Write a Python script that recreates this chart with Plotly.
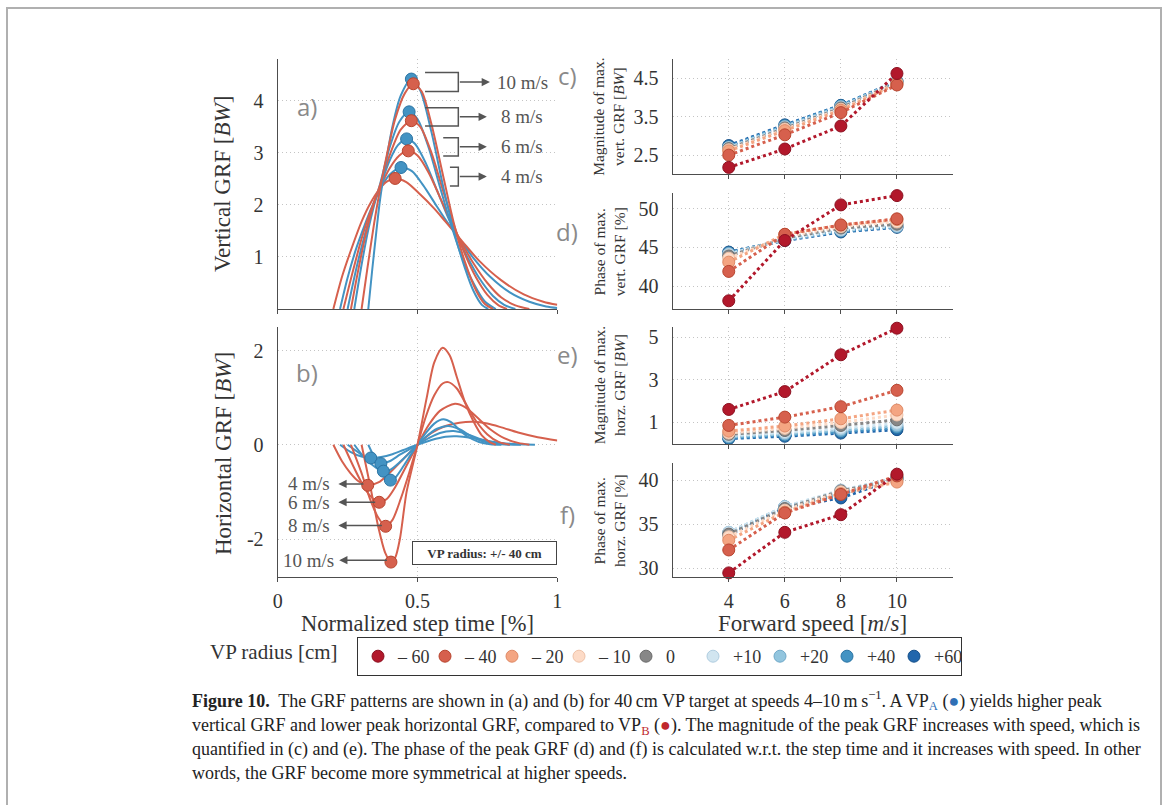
import plotly.graph_objects as go

W, H = 1168, 805
SERIF = "Liberation Serif, Times New Roman, serif"
SANS = "Open Sans, DejaVu Sans, sans-serif"
INK = "#555555"

speed_labels = ["4 m/s", "6 m/s", "8 m/s", "10 m/s"]

# ---------------- (a) vertical GRF over normalized step time ----------------
vert_red_t = [
    [0.199, 0.23, 0.26, 0.30, 0.33, 0.366, 0.39, 0.42, 0.46, 0.51, 0.56, 0.60, 0.66, 0.72, 0.80, 0.88, 0.95, 1.0],
    [0.235, 0.27, 0.30, 0.33, 0.366, 0.40, 0.435, 0.467, 0.50, 0.54, 0.58, 0.62, 0.66, 0.70, 0.75, 0.80, 0.85, 0.90],
    [0.262, 0.29, 0.32, 0.345, 0.366, 0.40, 0.44, 0.478, 0.51, 0.55, 0.59, 0.63, 0.67, 0.71, 0.75, 0.79, 0.82],
    [0.30, 0.32, 0.345, 0.366, 0.39, 0.42, 0.455, 0.485, 0.515, 0.55, 0.59, 0.63, 0.67, 0.71, 0.74, 0.77],
]
vert_red_f = [
    [0, 0.62, 1.1, 1.68, 2.02, 2.32, 2.45, 2.51, 2.44, 2.2, 1.93, 1.68, 1.3, 0.93, 0.55, 0.28, 0.14, 0.08],
    [0, 0.75, 1.35, 1.85, 2.33, 2.7, 2.95, 3.04, 2.95, 2.62, 2.15, 1.68, 1.25, 0.88, 0.5, 0.22, 0.07, 0.0],
    [0, 0.8, 1.55, 2.05, 2.38, 2.95, 3.45, 3.62, 3.5, 3.0, 2.3, 1.62, 1.05, 0.6, 0.27, 0.07, 0.0],
    [0, 0.75, 1.65, 2.3, 2.95, 3.65, 4.15, 4.33, 4.18, 3.55, 2.6, 1.65, 0.9, 0.35, 0.1, 0.0],
]
vert_blue_t = [
    [0.223, 0.25, 0.28, 0.31, 0.34, 0.366, 0.40, 0.441, 0.48, 0.52, 0.56, 0.60, 0.64, 0.70, 0.76, 0.83, 0.90, 0.96, 1.0],
    [0.25, 0.28, 0.31, 0.34, 0.366, 0.40, 0.43, 0.461, 0.49, 0.53, 0.57, 0.61, 0.64, 0.68, 0.72, 0.77, 0.81, 0.85],
    [0.274, 0.30, 0.325, 0.345, 0.366, 0.40, 0.435, 0.470, 0.50, 0.54, 0.58, 0.62, 0.66, 0.70, 0.74, 0.78],
    [0.324, 0.338, 0.352, 0.366, 0.385, 0.41, 0.44, 0.478, 0.51, 0.55, 0.59, 0.63, 0.67, 0.70, 0.73, 0.753],
]
vert_blue_f = [
    [0, 0.6, 1.15, 1.6, 2.0, 2.3, 2.58, 2.72, 2.65, 2.38, 2.05, 1.72, 1.42, 0.98, 0.62, 0.32, 0.14, 0.05, 0.02],
    [0, 0.75, 1.4, 1.95, 2.35, 2.85, 3.15, 3.27, 3.18, 2.8, 2.28, 1.75, 1.42, 0.98, 0.6, 0.25, 0.08, 0.0],
    [0, 0.85, 1.55, 2.0, 2.4, 3.1, 3.6, 3.79, 3.65, 3.1, 2.35, 1.62, 0.98, 0.5, 0.15, 0.0],
    [0, 0.75, 1.45, 2.1, 2.75, 3.5, 4.1, 4.42, 4.2, 3.4, 2.4, 1.5, 0.78, 0.35, 0.08, 0.0],
]
vert_red_peak_t = [0.42, 0.467, 0.478, 0.485]
vert_red_peak_f = [2.51, 3.04, 3.62, 4.33]
vert_blue_peak_t = [0.441, 0.461, 0.470, 0.478]
vert_blue_peak_f = [2.72, 3.27, 3.79, 4.42]

# ---------------- (b) horizontal GRF over normalized step time ----------------
horz_red_t = [
    [0.199, 0.23, 0.26, 0.29, 0.322, 0.36, 0.40, 0.45, 0.5, 0.55, 0.60, 0.65, 0.70, 0.75, 0.80, 0.86, 0.93, 1.0],
    [0.235, 0.27, 0.30, 0.33, 0.363, 0.39, 0.42, 0.46, 0.5, 0.54, 0.58, 0.634, 0.67, 0.71, 0.76, 0.81, 0.86, 0.90],
    [0.262, 0.30, 0.33, 0.36, 0.386, 0.41, 0.44, 0.47, 0.5, 0.53, 0.56, 0.59, 0.61, 0.64, 0.67, 0.71, 0.75, 0.79, 0.83],
    [0.30, 0.33, 0.36, 0.385, 0.405, 0.42, 0.437, 0.461, 0.5, 0.533, 0.56, 0.59, 0.615, 0.64, 0.67, 0.70, 0.73, 0.76, 0.78],
]
horz_red_f = [
    [0, -0.35, -0.6, -0.78, -0.86, -0.8, -0.6, -0.3, 0, 0.25, 0.4, 0.47, 0.49, 0.45, 0.37, 0.26, 0.16, 0.09],
    [0, -0.45, -0.8, -1.08, -1.22, -1.15, -0.9, -0.45, 0, 0.42, 0.72, 0.87, 0.8, 0.6, 0.33, 0.14, 0.04, 0.0],
    [0, -0.6, -1.15, -1.55, -1.73, -1.6, -1.15, -0.6, 0, 0.6, 1.05, 1.3, 1.33, 1.2, 0.9, 0.5, 0.22, 0.06, 0.0],
    [0, -0.85, -1.75, -2.3, -2.49, -2.4, -2.0, -1.0, 0, 1.0, 1.75, 2.06, 1.9, 1.45, 0.9, 0.5, 0.2, 0.05, 0.0],
]
horz_blue_t = [
    [0.223, 0.26, 0.30, 0.333, 0.37, 0.41, 0.45, 0.5, 0.55, 0.60, 0.64, 0.69, 0.74, 0.80, 0.86, 0.92],
    [0.25, 0.29, 0.32, 0.345, 0.369, 0.40, 0.44, 0.5, 0.54, 0.58, 0.628, 0.67, 0.72, 0.77, 0.82, 0.87],
    [0.274, 0.30, 0.33, 0.355, 0.378, 0.40, 0.44, 0.47, 0.5, 0.53, 0.57, 0.61, 0.65, 0.69, 0.73, 0.78, 0.83],
    [0.324, 0.34, 0.36, 0.38, 0.403, 0.42, 0.45, 0.475, 0.5, 0.53, 0.56, 0.592, 0.62, 0.65, 0.68, 0.72, 0.76, 0.80],
]
horz_blue_f = [
    [0, -0.15, -0.25, -0.28, -0.26, -0.2, -0.11, 0, 0.1, 0.17, 0.18, 0.15, 0.09, 0.04, 0.01, 0.0],
    [0, -0.17, -0.3, -0.37, -0.40, -0.35, -0.2, 0, 0.14, 0.25, 0.29, 0.24, 0.13, 0.05, 0.01, 0.0],
    [0, -0.2, -0.38, -0.5, -0.56, -0.54, -0.35, -0.18, 0, 0.17, 0.34, 0.40, 0.33, 0.19, 0.08, 0.02, 0.0],
    [0, -0.2, -0.45, -0.65, -0.75, -0.7, -0.45, -0.22, 0, 0.25, 0.45, 0.54, 0.48, 0.32, 0.17, 0.06, 0.01, 0.0],
]
horz_red_min_t = [0.322, 0.363, 0.386, 0.405]
horz_red_min_f = [-0.86, -1.22, -1.73, -2.49]
horz_blue_min_t = [0.333, 0.369, 0.378, 0.403]
horz_blue_min_f = [-0.28, -0.40, -0.56, -0.75]

# ---------------- (c)-(f) peak magnitude / phase vs forward speed ----------------
fwd_speed = [4, 6, 8, 10]
vp_radius = ["\u2013 60", "\u2013 40", "\u2013 20", "\u2013 10", "0", "+10", "+20", "+40", "+60"]
vp_colors = ["#b2182b", "#d6604d", "#f4a582", "#fddbc7", "#878787", "#d1e5f0", "#92c5de", "#4393c3", "#2166ac"]
vp_edges = ["#8c1020", "#b8452f", "#df8a66", "#efc2a8", "#6b6b6b", "#b0cde0", "#70a9c9", "#2b74a4", "#15508a"]

mag_vert = [
    [2.18, 2.66, 3.26, 4.63],
    [2.50, 3.03, 3.61, 4.33],
    [2.61, 3.14, 3.67, 4.36],
    [2.64, 3.18, 3.70, 4.38],
    [2.67, 3.21, 3.73, 4.40],
    [2.69, 3.23, 3.75, 4.41],
    [2.70, 3.25, 3.77, 4.42],
    [2.72, 3.27, 3.79, 4.42],
    [2.75, 3.29, 3.80, 4.43],
]
phase_vert = [
    [38.1, 45.9, 50.5, 51.7],
    [41.9, 46.7, 47.9, 48.7],
    [43.1, 46.7, 47.9, 48.6],
    [43.6, 46.4, 47.7, 48.3],
    [43.9, 46.2, 47.5, 48.0],
    [44.1, 46.1, 47.3, 47.8],
    [44.2, 46.0, 47.2, 47.7],
    [44.3, 46.0, 47.1, 47.7],
    [44.4, 45.9, 47.0, 47.6],
]
mag_horz = [
    [1.61, 2.45, 4.18, 5.43],
    [0.86, 1.25, 1.74, 2.51],
    [0.59, 0.83, 1.17, 1.58],
    [0.50, 0.72, 1.00, 1.35],
    [0.44, 0.62, 0.86, 1.12],
    [0.38, 0.53, 0.73, 0.96],
    [0.33, 0.46, 0.64, 0.84],
    [0.28, 0.40, 0.56, 0.75],
    [0.24, 0.35, 0.50, 0.66],
]
phase_horz = [
    [29.5, 34.1, 36.1, 40.7],
    [32.1, 36.3, 38.4, 40.5],
    [33.2, 36.4, 38.5, 39.8],
    [33.6, 36.6, 38.7, 39.9],
    [33.9, 36.8, 38.8, 40.1],
    [34.1, 37.0, 38.9, 40.2],
    [34.1, 37.0, 38.8, 40.3],
    [34.0, 37.0, 38.4, 40.3],
    [33.8, 36.9, 38.0, 40.2],
]

RED, RED_EDGE = "#d6604d", "#b8452f"
BLUE, BLUE_EDGE = "#4393c3", "#2b74a4"


def fx(px):
    return px / W


def fy(py):
    return 1 - py / H


fig = go.Figure()

# ---- (a) and (b) curves ----
for (xa, ya, t_r, f_r, t_b, f_b) in [
    ("x", "y", vert_red_t, vert_red_f, vert_blue_t, vert_blue_f),
    ("x2", "y2", horz_red_t, horz_red_f, horz_blue_t, horz_blue_f),
]:
    for i in range(4):
        fig.add_trace(go.Scatter(x=t_b[i], y=f_b[i], mode="lines", xaxis=xa, yaxis=ya,
                                 line=dict(color=BLUE, width=2, shape="spline", smoothing=0.8),
                                 showlegend=False, hoverinfo="skip"))
        fig.add_trace(go.Scatter(x=t_r[i], y=f_r[i], mode="lines", xaxis=xa, yaxis=ya,
                                 line=dict(color=RED, width=2, shape="spline", smoothing=0.8),
                                 showlegend=False, hoverinfo="skip"))

for (xa, ya, tb, fb, tr, fr) in [
    ("x", "y", vert_blue_peak_t, vert_blue_peak_f, vert_red_peak_t, vert_red_peak_f),
    ("x2", "y2", horz_blue_min_t, horz_blue_min_f, horz_red_min_t, horz_red_min_f),
]:
    fig.add_trace(go.Scatter(x=tb, y=fb, mode="markers", xaxis=xa, yaxis=ya, cliponaxis=False,
                             marker=dict(color=BLUE, size=12, line=dict(color=BLUE_EDGE, width=1)),
                             showlegend=False, hoverinfo="skip"))
    fig.add_trace(go.Scatter(x=tr, y=fr, mode="markers", xaxis=xa, yaxis=ya, cliponaxis=False,
                             marker=dict(color=RED, size=12, line=dict(color=RED_EDGE, width=1)),
                             showlegend=False, hoverinfo="skip"))

# ---- (c)-(f) ----
panels = [("x3", "y3", mag_vert), ("x4", "y4", phase_vert), ("x5", "y5", mag_horz), ("x6", "y6", phase_horz)]
for xa, ya, vals in panels:
    for k in reversed(range(len(vp_radius))):
        fig.add_trace(go.Scatter(
            x=fwd_speed, y=vals[k], mode="lines+markers", xaxis=xa, yaxis=ya, cliponaxis=False,
            line=dict(color=vp_colors[k], width=3, dash="dot"),
            marker=dict(color=vp_colors[k], size=12, line=dict(color=vp_edges[k], width=1)),
            showlegend=False, hoverinfo="skip"))

# legend entries
for k in range(len(vp_radius)):
    fig.add_trace(go.Scatter(
        x=[None], y=[None], mode="markers", xaxis="x3", yaxis="y3", name=vp_radius[k],
        marker=dict(color=vp_colors[k], size=12, line=dict(color=vp_edges[k], width=1)),
        showlegend=True, legendrank=k + 1))

# ---- axes ----
tickfont = dict(family=SERIF, size=20, color="#333333")
base = dict(showline=True, linecolor="#4d4d4d", linewidth=1.3, zeroline=False, showgrid=True,
            gridcolor="#c4c4c4", griddash="1px,3px", gridwidth=1, tickfont=tickfont, fixedrange=True)
xbase = dict(base, ticks="outside", ticklen=4, tickcolor="#4d4d4d", tickwidth=1, ticklabelstandoff=2)
ybase = dict(base, ticks="", ticklabelstandoff=9)

left_dom = [fx(277.7), fx(557.3)]
right_dom = [fx(672.7), fx(953)]

fig.update_layout(
    xaxis=dict(xbase, domain=left_dom, range=[0, 1], tickvals=[0, 0.5, 1], showticklabels=False, anchor="y"),
    yaxis=dict(ybase, domain=[fy(309), fy(59.3)], range=[0, 4.8], tickvals=[1, 2, 3, 4], anchor="x"),
    xaxis2=dict(xbase, domain=left_dom, range=[0, 1], tickvals=[0, 0.5, 1], ticktext=["0", "0.5", "1"], anchor="y2"),
    yaxis2=dict(ybase, domain=[fy(576.7), fy(327)], range=[-2.8, 2.5], tickvals=[-2, 0, 2],
                ticktext=["-2", "0", "2"], anchor="x2"),
    xaxis3=dict(xbase, domain=right_dom, range=[2, 12], tickvals=fwd_speed, showticklabels=False, anchor="y3"),
    yaxis3=dict(ybase, domain=[fy(174.3), fy(59.3)], range=[2, 5], tickvals=[2.5, 3.5, 4.5], anchor="x3"),
    xaxis4=dict(xbase, domain=right_dom, range=[2, 12], tickvals=fwd_speed, showticklabels=False, anchor="y4"),
    yaxis4=dict(ybase, domain=[fy(309.3), fy(193.3)], range=[37, 52], tickvals=[40, 45, 50], anchor="x4"),
    xaxis5=dict(xbase, domain=right_dom, range=[2, 12], tickvals=fwd_speed, showticklabels=False, anchor="y5"),
    yaxis5=dict(ybase, domain=[fy(443.7), fy(326.7)], range=[0, 5.5], tickvals=[1, 3, 5], anchor="x5"),
    xaxis6=dict(xbase, domain=right_dom, range=[2, 12], tickvals=fwd_speed, anchor="y6"),
    yaxis6=dict(ybase, domain=[fy(577.3), fy(462.7)], range=[29, 42], tickvals=[30, 35, 40], anchor="x6"),
)

ann = []


def text(x, y, s, size, color="#333333", family=SERIF, xanchor="center", yanchor="middle",
         angle=0, xref="paper", yref="paper", **kw):
    ann.append(dict(x=x, y=y, text=s, showarrow=False, xref=xref, yref=yref, xanchor=xanchor,
                    yanchor=yanchor, textangle=angle, font=dict(family=family, size=size, color=color), **kw))


# axis titles
text(fx(223), fy(184), "Vertical GRF [<i>BW</i>]", 23, angle=-90)
text(fx(223), fy(454), "Horizontal GRF [<i>BW</i>]", 23, angle=-90)
text(fx(417.5), fy(623), "Normalized step time [%]", 22.5)
text(fx(812), fy(623), "Forward speed [<i>m</i>/<i>s</i>]", 23)
text(fx(609), fy(116.8), "Magnitude of max.<br>vert. GRF [<i>BW</i>]", 15.5, angle=-90)
text(fx(609), fy(251.3), "Phase of max.<br>vert. GRF [%]", 15.5, angle=-90)
text(fx(609), fy(385.2), "Magnitude of max.<br>horz. GRF [<i>BW</i>]", 15.5, angle=-90)
text(fx(609), fy(520), "Phase of max.<br>horz. GRF [%]", 15.5, angle=-90)

# panel letters
for lab, x, y in [("a)", 307, 107), ("b)", 307, 372), ("c)", 567, 76), ("d)", 567, 232),
                  ("e)", 567, 354), ("f)", 567, 514)]:
    text(fx(x), fy(y), lab, 24, color="#8a8a8a", family=SANS)

# (a) brackets + arrows + speed labels
brackets_a = [  # (top, bottom, left, right, arrow tip, text x)
    (4.544, 4.179, 0.527, 0.646, 0.759, 0.777),
    (3.871, 3.519, 0.527, 0.646, 0.748, 0.791),
    (3.294, 2.942, 0.592, 0.646, 0.748, 0.791),
    (2.725, 2.365, 0.616, 0.646, 0.748, 0.791),
]
shapes = []
for lab, (top, bot, left, right, tip, tx) in zip(speed_labels[::-1], brackets_a):
    mid = (top + bot) / 2
    shapes.append(dict(type="path", xref="x", yref="y",
                       path=f"M{left},{top} L{right},{top} L{right},{bot} L{left},{bot}",
                       line=dict(color=INK, width=1.5)))
    ann.append(dict(x=tip, y=mid, ax=right, ay=mid, xref="x", yref="y", axref="x", ayref="y",
                    text="", showarrow=True, arrowhead=2, arrowsize=1.1, arrowwidth=1.5,
                    arrowcolor=INK, standoff=0, startstandoff=0))
    text(tx, mid, lab, 19, color=INK, xanchor="left", xref="x", yref="y")

# (b) arrows + speed labels
arrows_b = [(-0.83, 0.312, 0.217, 0.193), (-1.219, 0.354, 0.217, 0.193),
            (-1.713, 0.378, 0.217, 0.193), (-2.45, 0.396, 0.220, 0.2085)]
for lab, (yy, tail, head, tx) in zip(speed_labels, arrows_b):
    ann.append(dict(x=head, y=yy, ax=tail, ay=yy, xref="x2", yref="y2", axref="x2", ayref="y2",
                    text="", showarrow=True, arrowhead=2, arrowsize=1.1, arrowwidth=1.5,
                    arrowcolor=INK, standoff=0, startstandoff=0))
    text(tx, yy, lab, 19, color=INK, xanchor="right", xref="x2", yref="y2")

# VP radius box
ann.append(dict(x=fx(484.5), y=fy(565), xref="paper", yref="paper", showarrow=False,
                text="<b>VP radius: +/- 40 cm</b>", font=dict(family=SERIF, size=13, color="#333333"),
                bordercolor="#444444", borderwidth=1, borderpad=3, bgcolor="white",
                width=137, height=16))

# legend label
text(fx(340), fy(652), "VP radius [cm]", 21, xanchor="right")

# caption
cap = [
    "<b>Figure 10.</b>  The GRF patterns are shown in (a) and (b) for 40\u2009cm VP target at speeds 4\u201310\u2009m\u2009s<sup>\u22121</sup>. A VP<sub><span style='color:#2f6fb5'>A</span></sub> (<span style='color:#2f6fb5'>\u25cf</span>) yields higher peak",
    "vertical GRF and lower peak horizontal GRF, compared to VP<sub><span style='color:#c0282d'>B</span></sub> (<span style='color:#c0282d'>\u25cf</span>). The magnitude of the peak GRF increases with speed, which is",
    "quantified in (c) and (e). The phase of the peak GRF (d) and (f) is calculated w.r.t. the step time and it increases with speed. In other",
    "words, the GRF become more symmetrical at higher speeds.",
]
for line, y in zip(cap, [700, 726, 749, 773]):
    text(fx(190), fy(y), line, 18, color="#222222", xanchor="left")

# outer frame
shapes.append(dict(type="rect", xref="paper", yref="paper", x0=fx(7), x1=fx(1161), y0=-0.02, y1=fy(8),
                   line=dict(color="#b0b0b0", width=2), fillcolor="rgba(0,0,0,0)"))

fig.update_layout(
    width=W, height=H, margin=dict(l=0, r=0, t=0, b=0), autosize=False,
    template="none", paper_bgcolor="white", plot_bgcolor="white",
    annotations=ann, shapes=shapes,
    showlegend=True,
    legend=dict(orientation="h", x=fx(357), y=fy(637), xanchor="left", yanchor="top",
                bordercolor="#333333", borderwidth=1, bgcolor="white",
                font=dict(family=SERIF, size=18, color="#333333"),
                entrywidth=22, entrywidthmode="pixels", itemwidth=30, traceorder="normal"),
)

fig.write_html("out.html")
